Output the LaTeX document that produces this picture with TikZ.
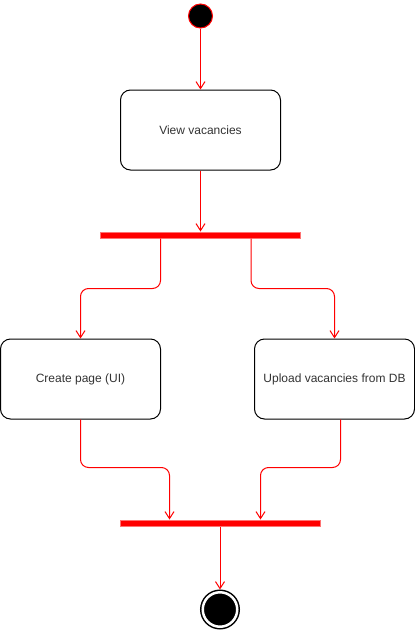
\documentclass[tikz,border=0pt]{standalone}
\usepackage{fontspec}
\setmainfont{Liberation Sans}
\usetikzlibrary{shapes,arrows.meta,positioning}

\begin{document}
\begin{tikzpicture}[auto, >={Straight Barb[length=7pt,width=9pt]},
    act/.style={rectangle, draw=black, rounded corners=10pt, fill=white, line width=1pt, minimum width=160pt, minimum height=80pt, align=center, text=black!80, font=\fontsize{12}{14}\selectfont},
    bar/.style={rectangle, draw=red!55, fill=red, line width=1pt, minimum width=200pt, minimum height=6pt, inner sep=0pt},
    ini/.style={circle, draw=red, fill=black, line width=1pt, minimum size=24pt, inner sep=0pt},
    fin/.style={circle, draw=black, fill=black, double=white, double distance=2.5pt, line width=1.5pt, minimum size=34.5pt, inner sep=0pt, outer sep=2.75pt},
    ar/.style={->, draw=red, line width=1pt},
    rar/.style={ar, rounded corners=8pt}]
    \useasboundingbox (0,0) rectangle (415pt,-632pt);
    \node [ini] (start) at (200.5pt,-16pt) {};
    \node [act, below=61pt of start] (view) {View vacancies};
    \node [bar, below=61pt of view] (fork) {};
    \node [act, below=100pt of fork, xshift=-120pt] (create) {Create page (UI)};
    \node [act, below=100pt of fork, xshift=134pt] (upload) {Upload vacancies from DB};
    \node [bar, below=100pt of create, xshift=139.5pt] (join) {};
    \node [fin, below=63pt of join] (stop) {};
    \draw [ar] (start) -- (view);
    \draw [ar] (view) -- (fork);
    \draw [rar] ([xshift=-40pt]fork.south) |- ([yshift=50pt]create.north) -- (create.north);
    \draw [rar] ([xshift=-50pt]fork.south east) |- ([yshift=50pt]upload.north) -- (upload.north);
    \draw [rar] (create.south) |- ([xshift=50pt,yshift=52pt]join.north west) -- ([xshift=50pt]join.north west);
    \draw [rar] ([xshift=6pt]upload.south) |- ([xshift=-60pt,yshift=52pt]join.north east) -- ([xshift=-60pt]join.north east);
    \draw [ar] (join) -- (stop);
\end{tikzpicture}
\end{document}
